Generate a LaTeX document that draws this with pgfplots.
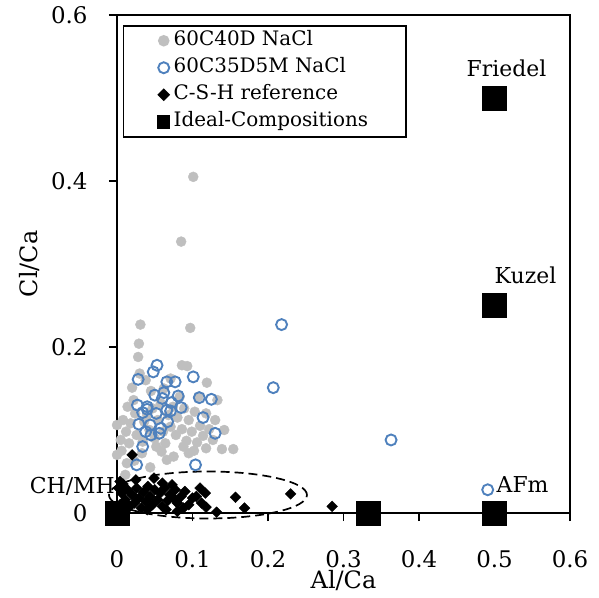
\documentclass[border=0pt]{standalone}
\usepackage{pgfplots}
\pgfplotsset{compat=1.18}
\usepackage{fontspec}
\setmainfont{DejaVu Serif}
\definecolor{ptgray}{RGB}{191,191,191}
\definecolor{ptblue}{RGB}{79,129,189}
\begin{document}
\begin{tikzpicture}
\useasboundingbox (-117bp,-85bp) rectangle (482bp,513bp);
\begin{axis}[
  scale only axis, width=453bp, height=498bp,
  xmin=0, xmax=0.6, ymin=0, ymax=0.6,
  xtick={0,0.1,0.2,0.3,0.4,0.5,0.6},
  xticklabels={0,0.1,0.2,0.3,0.4,0.5,0.6},
  ytick={0,0.2,0.4,0.6},
  yticklabels={0,0.2,0.4,0.6},
  tick align=outside, tick pos=left, major tick length=8bp,
  axis line style={line width=1.5bp},
  every tick/.style={line width=1.5bp, black},
  ticklabel style={font=\fontsize{23}{27}\selectfont},
  xticklabel style={yshift=-26bp},
  yticklabel style={xshift=-18bp},
  xlabel={Al/Ca}, ylabel={Cl/Ca},
  label style={font=\fontsize{24}{28}\selectfont},
  xlabel style={at={(axis description cs:0.5,0)}, anchor=center, yshift=-68bp},
  ylabel style={at={(axis description cs:0,0.5)}, anchor=center, yshift=87bp},
  clip=false,
  legend cell align=left,
  legend style={at={(axis description cs:0,1)}, anchor=north west, xshift=6bp, yshift=-10bp,
    draw=black, line width=1.5bp, font=\fontsize{20}{24}\selectfont,
    inner xsep=34bp, inner ysep=4bp, row sep=5bp,
    nodes={inner ysep=1bp, inner xsep=4bp, text height=15bp, text depth=5bp}},
]
\addplot[only marks, mark=*, mark size=5bp, draw=ptgray, fill=ptgray] coordinates {
(0.101,0.405) (0.085,0.327) (0.031,0.227) (0.097,0.223) (0.029,0.204) (0.028,0.188)
(0.086,0.178) (0.093,0.177) (0.119,0.157) (0.133,0.136) (0.139,0.077) (0.154,0.077)
(0.000,0.070) (0.000,0.106) (0.011,0.046) (0.044,0.055) (0.020,0.151) (0.022,0.136)
(0.030,0.168) (0.024,0.120) (0.008,0.112) (0.012,0.098) (0.005,0.088) (0.016,0.084)
(0.018,0.108) (0.026,0.094) (0.034,0.086) (0.036,0.110) (0.040,0.118) (0.043,0.100)
(0.047,0.126) (0.050,0.090) (0.054,0.112) (0.058,0.132) (0.061,0.098) (0.064,0.084)
(0.068,0.118) (0.071,0.104) (0.074,0.128) (0.078,0.094) (0.080,0.115) (0.083,0.140)
(0.086,0.101) (0.089,0.126) (0.092,0.087) (0.095,0.112) (0.099,0.098) (0.103,0.122)
(0.106,0.085) (0.110,0.105) (0.114,0.093) (0.118,0.078) (0.122,0.101) (0.127,0.088)
(0.095,0.072) (0.075,0.068) (0.059,0.074) (0.033,0.072) (0.023,0.063) (0.062,0.150)
(0.071,0.162) (0.045,0.147) (0.108,0.140) (0.118,0.120) (0.014,0.128) (0.006,0.075)
(0.038,0.160) (0.052,0.080) (0.066,0.064) (0.088,0.080) (0.102,0.075) (0.130,0.112)
(0.142,0.100) (0.013,0.060)
};
\addlegendentry{60C40D NaCl}
\addplot[only marks, mark=o, mark size=5.5bp, draw=ptblue, line width=1.9bp] coordinates {
(0.218,0.227) (0.207,0.151) (0.363,0.088) (0.491,0.028) (0.053,0.178) (0.048,0.170)
(0.028,0.161) (0.066,0.158) (0.077,0.158) (0.101,0.164) (0.109,0.139) (0.125,0.137)
(0.081,0.141) (0.050,0.142) (0.062,0.145) (0.027,0.130) (0.040,0.128) (0.034,0.121)
(0.029,0.107) (0.044,0.106) (0.058,0.102) (0.067,0.110) (0.066,0.124) (0.052,0.120)
(0.114,0.115) (0.130,0.096) (0.034,0.080) (0.026,0.058) (0.104,0.058) (0.045,0.094)
(0.056,0.096) (0.038,0.098) (0.072,0.133) (0.085,0.127) (0.071,0.123) (0.060,0.138)
(0.040,0.125)
};
\addlegendentry{60C35D5M NaCl}
\addplot[only marks, mark=square*, mark size=3.8bp, mark options={rotate=45}, black] coordinates {
(0.020,0.070) (0.049,0.042) (0.073,0.034) (0.117,0.024) (0.157,0.019) (0.169,0.006)
(0.230,0.023) (0.285,0.008) (0.132,0.001) (0.112,0.012) (0.100,0.018) (0.095,0.010)
(0.090,0.026) (0.085,0.020) (0.080,0.012) (0.077,0.028) (0.070,0.022) (0.067,0.015)
(0.063,0.030) (0.060,0.008) (0.057,0.024) (0.054,0.016) (0.050,0.028) (0.047,0.010)
(0.044,0.020) (0.041,0.032) (0.038,0.014) (0.035,0.025) (0.032,0.006) (0.029,0.018)
(0.026,0.030) (0.023,0.012) (0.020,0.022) (0.017,0.008) (0.014,0.028) (0.011,0.016)
(0.008,0.035) (0.006,0.024) (0.004,0.010) (0.002,0.030) (0.065,0.004) (0.075,0.018)
(0.088,0.006) (0.105,0.020) (0.118,0.007) (0.110,0.030) (0.040,0.004) (0.025,0.040)
(0.060,0.036) (0.080,0.002) (0.004,0.038)
};
\addlegendentry{C-S-H reference}
\addplot[only marks, mark=square*, mark size=12bp, black, legend image post style={mark size=6bp}] coordinates {
(0,0) (0.3333,0) (0.5,0) (0.5,0.25) (0.5,0.5)
};
\addlegendentry{Ideal-Compositions}
\draw[black, line width=1.7bp, dash pattern=on 9bp off 5bp] (axis cs:0.1205,0.0217) ellipse [x radius=99bp, y radius=23.5bp];
\node[anchor=base, font=\fontsize{22}{26}\selectfont] at (axis cs:0.5,0.5) [xshift=12bp, yshift=22bp] {Friedel};
\node[anchor=base, font=\fontsize{22}{26}\selectfont] at (axis cs:0.5,0.25) [xshift=31bp, yshift=22bp] {Kuzel};
\node[anchor=base west, inner sep=0pt, font=\fontsize{22}{26}\selectfont] at (axis cs:0.5,0) [xshift=2bp, yshift=21bp] {AFm};
\node[anchor=base east, inner sep=0pt, font=\fontsize{22}{26}\selectfont] at (axis cs:0,0) [xshift=-2bp, yshift=20bp] {CH/MH};
\end{axis}
\end{tikzpicture}
\end{document}
